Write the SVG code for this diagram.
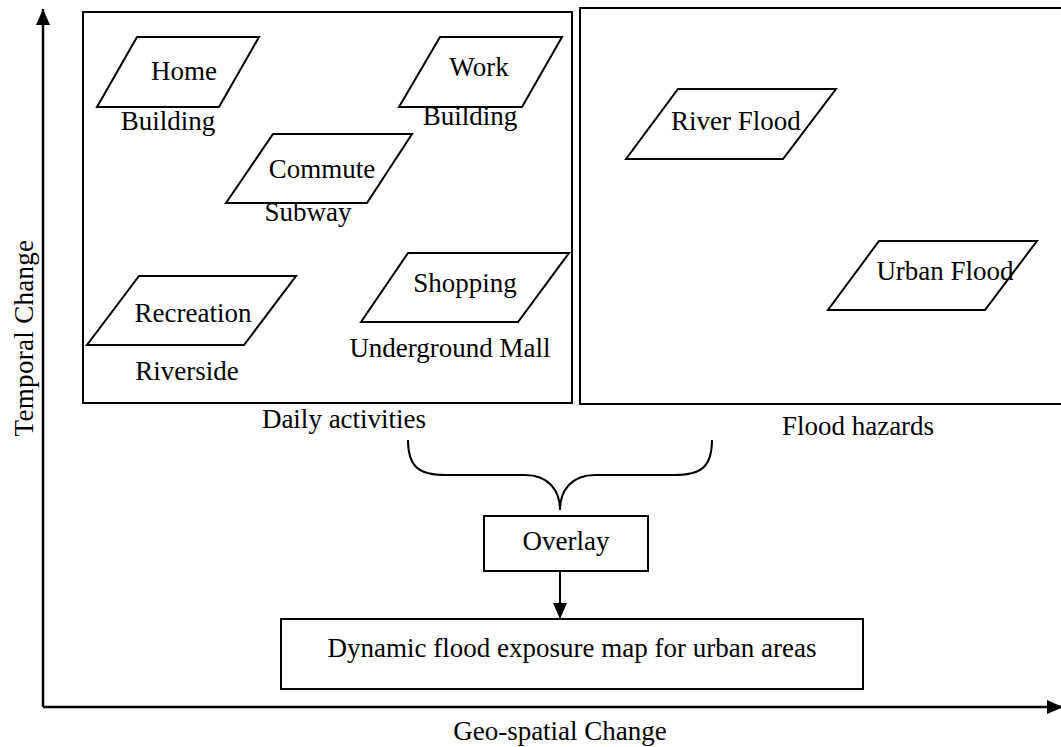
<svg xmlns="http://www.w3.org/2000/svg" width="1061" height="747" viewBox="0 0 1061 747">
<style>
text{font-family:"Liberation Serif","Times New Roman",serif;font-size:27px;fill:#000;text-anchor:middle}
.box{fill:#fff;stroke:#000;stroke-width:2}
.para{fill:#fff;stroke:#000;stroke-width:2;stroke-linejoin:miter}
.axis{fill:none;stroke:#000;stroke-width:2.5}
.conn{fill:none;stroke:#000;stroke-width:2}
</style>
<defs>
<marker id="ah" markerWidth="8" markerHeight="8" refX="8" refY="4" orient="auto" markerUnits="userSpaceOnUse" viewBox="0 0 8 8">
<path d="M0,0 L8,4 L0,8 Z" fill="#000"/>
</marker>
<marker id="ah2" markerWidth="16" markerHeight="14" refX="16" refY="7" orient="auto" markerUnits="userSpaceOnUse" viewBox="0 0 16 14">
<path d="M0,0 L16,7 L0,14 Z" fill="#000"/>
</marker>
</defs>
<rect width="1061" height="747" fill="#fff"/>

<g id="axes">
<line class="axis" x1="43" y1="707" x2="43" y2="9" marker-end="url(#ah2)"/>
<line class="axis" x1="43" y1="707" x2="1063" y2="707" marker-end="url(#ah2)"/>
<text transform="translate(33,338) rotate(-90)" letter-spacing="0.3">Temporal Change</text>
<text x="560" y="740">Geo-spatial Change</text>
</g>

<g id="daily-activities">
<rect class="box" x="83" y="12" width="489" height="391"/>
<text x="344" y="428">Daily activities</text>
</g>

<g id="flood-hazards">
<rect class="box" x="580" y="8" width="484" height="396"/>
<text x="858" y="435">Flood hazards</text>
</g>

<g id="home">
<polygon class="para" points="137,37 259,37 219,107 97,107"/>
<text x="184" y="80">Home</text>
<text x="168" y="130">Building</text>
</g>

<g id="work">
<polygon class="para" points="440,37 562,37 522,107 399,107"/>
<text x="479" y="76">Work</text>
<text x="470" y="125">Building</text>
</g>

<g id="commute">
<polygon class="para" points="273,134 412,134 367,203 226,203"/>
<text x="322" y="178">Commute</text>
<text x="308" y="221">Subway</text>
</g>

<g id="recreation">
<polygon class="para" points="139,276 296,276 244,345 87,345"/>
<text x="193" y="322">Recreation</text>
<text x="187" y="380">Riverside</text>
</g>

<g id="shopping">
<polygon class="para" points="408,253 569,253 518,322 361,322"/>
<text x="465" y="292">Shopping</text>
<text x="450" y="357">Underground Mall</text>
</g>

<g id="river-flood">
<polygon class="para" points="678,89 836,89 783,159 626,159"/>
<text x="736" y="130">River Flood</text>
</g>

<g id="urban-flood">
<polygon class="para" points="879,241 1037,241 985,310 828,310"/>
<text x="945" y="280">Urban Flood</text>
</g>

<g id="overlay">
<rect class="box" x="484" y="516" width="164" height="55"/>
<text x="566" y="550">Overlay</text>
</g>

<g id="exposure-map">
<rect class="box" x="281" y="619" width="582" height="70"/>
<text x="572" y="657">Dynamic flood exposure map for urban areas</text>
</g>

<g id="connectors">
<path class="conn" d="M408,440 C408,466 418,475 445,475 L525,475 C548,475 560,490 560,510 C560,490 572,475 595,475 L675,475 C702,475 712,466 712,440"/>
<line class="conn" x1="560" y1="571" x2="560" y2="619" marker-end="url(#ah2)"/>
</g>
</svg>
